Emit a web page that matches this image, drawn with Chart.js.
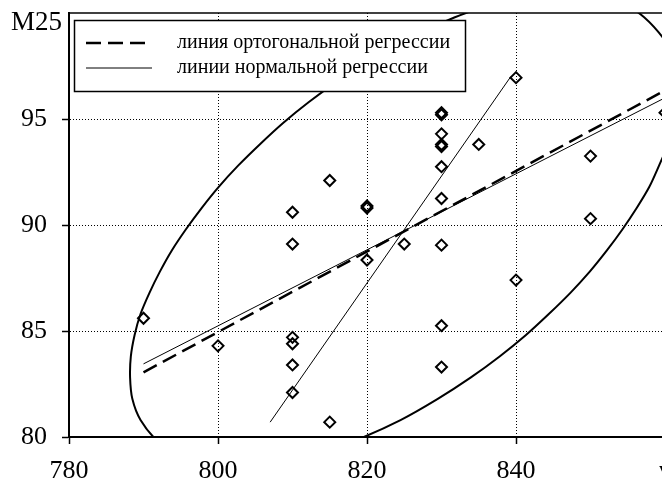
<!DOCTYPE html>
<html lang="ru">
<head>
<meta charset="utf-8">
<title>M25 – γ</title>
<script src="https://cdn.jsdelivr.net/npm/chart.js@4.4.1/dist/chart.umd.min.js"></script>
<style>
  html, body { margin: 0; padding: 0; background: #fff; overflow: hidden; }
  canvas { display: block; }
</style>
</head>
<body>
<canvas id="grafico" width="680" height="483"></canvas>
<script>
// измерения: γ по оси x, M25 по оси y
const gammaPoints = [790, 800, 810, 810, 810, 810, 810, 810, 815, 815, 820, 820, 820, 825,
    830, 830, 830, 830, 830, 830, 830, 830, 830, 830, 835, 840, 840, 850, 850, 860];
const m25Points = [85.6, 84.3, 90.6, 89.1, 84.7, 84.4, 83.4, 82.1, 92.1, 80.7, 90.9, 90.8, 88.35, 89.1,
    95.3, 95.2, 94.3, 93.8, 93.7, 92.75, 91.25, 89.05, 85.25, 83.3, 93.8, 96.95, 87.4, 93.25, 90.3, 95.3];

// линия ортогональной регрессии
const orthoGamma = [790, 860];
const orthoM25 = [83.05, 96.35];

// линии нормальной регрессии (y по x и x по y)
const normYxGamma = [790, 860];
const normYxM25 = [83.45, 96.0];
const normXyGamma = [807, 839.3];
const normXyM25 = [80.7, 97.0];

// эллипс рассеяния (замкнутый контур)
const ellipseGamma = [802.7, 808.4, 813.2, 818.2, 824.5, 829.5, 833.9, 837.8, 841.3, 844.4, 847.3, 849.9,
    852.2, 854.3, 856.2, 857.9, 859.2, 860.4, 861.2, 861.7, 861.8, 861.5, 859.8, 857.2, 854.6, 851.5,
    847.3, 841.6, 836.8, 831.8, 825.5, 820.5, 816.1, 812.2, 808.7, 805.6, 802.7, 800.1, 797.8, 795.7,
    793.8, 792.2, 790.8, 789.6, 788.8, 788.3, 788.2, 788.5, 789.6, 791.9, 794.5, 797.7, 802.7];
const ellipseM25 = [78.6, 78.8, 79.2, 79.8, 80.8, 81.8, 82.8, 83.8, 84.8, 85.8, 86.8, 87.8,
    88.8, 89.8, 90.8, 91.8, 92.8, 93.8, 94.8, 95.8, 96.8, 97.8, 98.8, 99.8, 100.4, 100.8,
    101.0, 100.8, 100.4, 99.8, 98.8, 97.8, 96.8, 95.8, 94.8, 93.8, 92.8, 91.8, 90.8, 89.8,
    88.8, 87.8, 86.8, 85.8, 84.8, 83.8, 82.8, 81.8, 80.8, 79.8, 79.2, 78.8, 78.6];

// подписи делений
const xTicks = [780, 800, 820, 840, 860];
const xTickLabels = ['780', '800', '820', '840', 'γ'];
const yTicks = [80, 85, 90, 95, 100];
const yTickLabels = ['80', '85', '90', '95', null];
const yAxisName = 'M25';

const legendLabels = ['линия ортогональной регрессии', 'линии нормальной регрессии'];

const SERIF = '"Liberation Serif", "Times New Roman", serif';

function coppie(xs, ys) {
    return xs.map((x, i) => ({ x: x, y: ys[i] }));
}

// верхняя рамка, легенда поверх графика и название оси M25
const legendaRiquadro = {
    id: 'legendaRiquadro',
    afterDatasetsDraw(chart) {
        const ctx = chart.ctx;
        const area = chart.chartArea;
        ctx.save();
        ctx.strokeStyle = '#000';
        ctx.lineWidth = 1.5;
        ctx.beginPath();
        ctx.moveTo(area.left, area.top);
        ctx.lineTo(area.right, area.top);
        ctx.stroke();

        ctx.fillStyle = '#fff';
        ctx.fillRect(74, 20, 392, 72);
        ctx.strokeRect(74.5, 20.5, 391, 71);

        let riga = 0;
        chart.data.datasets.forEach(ds => {
            if (!ds.inLegend) return;
            const y = 43 + riga * 25;
            ctx.beginPath();
            ctx.setLineDash(ds.borderDash || []);
            ctx.lineWidth = ds.borderWidth;
            ctx.moveTo(86, y);
            ctx.lineTo(152, y);
            ctx.stroke();
            ctx.setLineDash([]);
            ctx.fillStyle = '#000';
            ctx.font = '20px ' + SERIF;
            ctx.textBaseline = 'middle';
            ctx.textAlign = 'left';
            ctx.fillText(ds.label, 177, y);
            riga++;
        });
        ctx.restore();
    },
    afterDraw(chart) {
        const ctx = chart.ctx;
        ctx.save();
        ctx.fillStyle = '#000';
        ctx.font = '27px ' + SERIF;
        ctx.textAlign = 'right';
        ctx.textBaseline = 'middle';
        ctx.fillText(yAxisName, 62, 23);
        ctx.restore();
    }
};

Chart.defaults.font.family = SERIF;
Chart.defaults.color = '#000';

const ctx = document.getElementById('grafico').getContext('2d');
new Chart(ctx, {
    type: 'scatter',
    data: {
        datasets: [
            {
                label: legendLabels[0],
                inLegend: true,
                data: coppie(orthoGamma, orthoM25),
                showLine: true,
                borderColor: '#000',
                borderWidth: 2.5,
                borderDash: [15, 7],
                pointRadius: 0
            },
            {
                label: legendLabels[1],
                inLegend: true,
                data: coppie(normYxGamma, normYxM25),
                showLine: true,
                borderColor: '#000',
                borderWidth: 1,
                pointRadius: 0
            },
            {
                label: legendLabels[1],
                data: coppie(normXyGamma, normXyM25),
                showLine: true,
                borderColor: '#000',
                borderWidth: 1,
                pointRadius: 0
            },
            {
                label: 'эллипс',
                data: coppie(ellipseGamma, ellipseM25),
                showLine: true,
                borderColor: '#000',
                borderWidth: 2,
                tension: 0.3,
                pointRadius: 0
            },
            {
                label: 'M25',
                data: coppie(gammaPoints, m25Points),
                pointStyle: 'rectRot',
                pointRadius: 5.5,
                pointBorderWidth: 2,
                borderColor: '#000',
                backgroundColor: 'rgba(0,0,0,0)'
            }
        ]
    },
    options: {
        responsive: false,
        animation: false,
        layout: { autoPadding: false, padding: { top: 13, right: 15, left: 0, bottom: 0 } },
        plugins: {
            legend: { display: false },
            tooltip: { enabled: false }
        },
        scales: {
            x: {
                type: 'linear',
                min: 780,
                max: 860,
                ticks: {
                    stepSize: 20,
                    autoSkip: false,
                    maxRotation: 0,
                    padding: 12,
                    font: { size: 26 },
                    callback: v => {
                        const i = xTicks.indexOf(v);
                        return i >= 0 ? xTickLabels[i] : null;
                    }
                },
                grid: { color: '#000', lineWidth: 1, tickLength: 7, tickWidth: 1.5, tickColor: '#000' },
                border: { display: true, color: '#000', width: 2, dash: [1, 2] },
                afterFit: s => {
                    s.height = 46;
                    s.paddingLeft = 0;
                    s.paddingRight = 0;
                }
            },
            y: {
                type: 'linear',
                min: 80,
                max: 100,
                ticks: {
                    stepSize: 5,
                    padding: 15,
                    font: { size: 26 },
                    callback: v => {
                        const i = yTicks.indexOf(v);
                        return i >= 0 ? yTickLabels[i] : null;
                    }
                },
                grid: { color: '#000', lineWidth: 1, tickLength: 7, tickWidth: 1.5, tickColor: '#000' },
                border: { display: true, color: '#000', width: 2, dash: [1, 2] },
                afterFit: s => {
                    s.width = 69;
                    s.paddingTop = 0;
                    s.paddingBottom = 0;
                }
            }
        }
    },
    plugins: [legendaRiquadro]
});
</script>
</body>
</html>
